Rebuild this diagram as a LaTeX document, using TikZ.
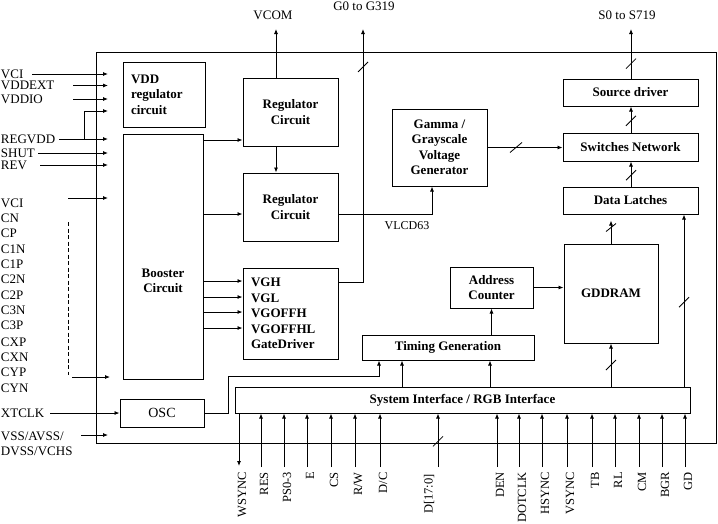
\documentclass[tikz,border=0pt]{standalone}
\usepackage{fontspec}
\setmainfont{Liberation Serif}
\usetikzlibrary{arrows.meta}
\begin{document}
\begin{tikzpicture}[x=1pt,y=-1pt,
  arr/.style={-{Latex[length=5pt,width=4pt]}, line width=0.8pt},
  ln/.style={line width=0.8pt},
  box/.style={draw, line width=1pt, inner sep=0pt, align=center, font=\fontsize{13}{15.5}\selectfont\bfseries},
  lbl/.style={font=\fontsize{13}{15}\selectfont, inner sep=0pt},
  pinlbl/.style={font=\fontsize{12.5}{15}\selectfont, inner sep=0pt, rotate=90, anchor=east},
  slashmark/.style={line width=0.8pt},
]
\useasboundingbox (0,0) rectangle (718,523);

% outer frame
\node[draw, line width=1pt, minimum width=620pt, minimum height=391pt, inner sep=0pt] (outer) at (406,247.5) {};

% blocks
\node[box, minimum width=82pt, minimum height=65pt, text width=66pt, align=left] (vdd) at (164,94.5) {VDD\\regulator\\circuit};
\node[box, minimum width=80pt, minimum height=245pt] (boost) at (163,256.5) {};
\node[font=\fontsize{13}{15.5}\selectfont\bfseries, align=center, inner sep=0pt] (boostT) at (163,281) {Booster\\Circuit};
\node[box, font=\fontsize{14}{16}\selectfont, minimum width=84pt, minimum height=28pt] (osc) at (162,413) {OSC};
\node[box, minimum width=95pt, minimum height=68pt] (reg1) at (290.5,112) {Regulator\\Circuit};
\node[box, minimum width=95pt, minimum height=68pt] (reg2) at (290.5,207) {Regulator\\Circuit};
\node[box, minimum width=95pt, minimum height=91pt, text width=79pt, align=left] (vgh) at (290.5,313.5) {VGH\\VGL\\VGOFFH\\VGOFFHL\\GateDriver};
\node[box, minimum width=95pt, minimum height=77pt] (gam) at (439.5,147.5) {Gamma /\\Grayscale\\Voltage\\Generator};
\node[box, minimum width=135pt, minimum height=27pt] (src) at (630.5,92.5) {Source driver};
\node[box, minimum width=135pt, minimum height=28pt] (sw) at (630.5,147) {Switches Network};
\node[box, minimum width=135pt, minimum height=27pt] (dl) at (630.5,200.5) {Data Latches};
\node[box, minimum width=83pt, minimum height=41pt] (ac) at (491.5,287.5) {Address\\Counter};
\node[box, minimum width=94pt, minimum height=99pt] (gd) at (611,293.5) {GDDRAM};
\node[box, minimum width=172pt, minimum height=25pt] (tg) at (448,347.5) {Timing Generation};
\node[box, minimum width=455pt, minimum height=26pt] (si) at (462.5,400) {System Interface / RGB Interface};

% top outputs
\coordinate (vcom) at (276,29);
\coordinate (g0) at (363,29);
\coordinate (s0) at (631,29);
\node[lbl] (vcomL) at (273,15) {VCOM};
\node[lbl] (g0L) at (364,6.5) {G0 to G319};
\node[lbl] (s0L) at (627,15) {S0 to S719};

\draw[arr] (reg1.north -| vcom) -- (vcom);
\draw[arr] (reg1.south -| vcom) -- (reg2.north -| vcom);
\coordinate (gk) at (363,282);
\draw[arr] (vgh.east |- gk) -- (gk) -- coordinate[pos=0.85] (gs) (g0);
\draw[slashmark] ([shift={(-5,5)}]gs) -- ([shift={(5,-5)}]gs);
\draw[arr] (src.north -| s0) -- coordinate[pos=0.3] (ss) (s0);
\draw[slashmark] ([shift={(-5,5)}]ss) -- ([shift={(5,-5)}]ss);

% booster outputs
\foreach \y/\n in {140/ba,214/bb,281/bc,297/bd,312/be,328/bf} {\coordinate (\n) at (203,\y);}
\draw[arr] (ba) -- (ba -| reg1.west);
\draw[arr] (bb) -- (bb -| reg2.west);
\draw[arr] (bc) -- (bc -| vgh.west);
\draw[arr] (bd) -- (bd -| vgh.west);
\draw[arr] (be) -- (be -| vgh.west);
\draw[arr] (bf) -- (bf -| vgh.west);

% reg2 -> gamma
\coordinate (vl) at (432,214);
\draw[arr] (reg2.east |- vl) -- (vl) -- (vl |- gam.south);
\node[font=\fontsize{12}{14}\selectfont, inner sep=0pt] (vlL) at (407,226) {VLCD63};

% gamma -> switches
\draw[arr] (gam.east) -- coordinate[pos=0.38] (gms) (gam.east -| sw.west);
\draw[slashmark] ([shift={(-6,5)}]gms) -- ([shift={(6,-5)}]gms);

% data path
\draw[arr] (dl.north -| s0) -- coordinate[pos=0.45] (d1) (sw.south -| s0);
\draw[slashmark] ([shift={(-5,5)}]d1) -- ([shift={(5,-5)}]d1);
\draw[arr] (sw.north -| s0) -- coordinate[pos=0.45] (d2) (src.south -| s0);
\draw[slashmark] ([shift={(-5,5)}]d2) -- ([shift={(5,-5)}]d2);
\draw[arr, shorten >=6pt] (gd.north) -- coordinate[pos=0.55] (d3) (gd.north |- dl.south);
\draw[slashmark] ([shift={(-5,4)}]d3) -- ([shift={(5,-4)}]d3);

\draw[arr] (ac.east) -- (ac.east -| gd.west);
\draw[arr] (ac.south |- tg.north) -- (ac.south);

% system interface up
\coordinate (xa) at (402,0);
\coordinate (xb) at (490,0);
\coordinate (xr) at (684,0);
\draw[arr] (si.north -| xa) -- (tg.south -| xa);
\draw[arr] (si.north -| xb) -- (tg.south -| xb);
\draw[arr] (gd.south |- si.north) -- coordinate[pos=0.5] (d4) (gd.south);
\draw[slashmark] ([shift={(-5,5)}]d4) -- ([shift={(5,-5)}]d4);
\draw[arr] (si.north -| xr) -- coordinate[pos=0.49] (d5) (dl.south -| xr);
\draw[slashmark] ([shift={(-5,5)}]d5) -- ([shift={(5,-5)}]d5);

% osc -> timing
\coordinate (oa) at (228,413);
\coordinate (ob) at (228,376);
\coordinate (oc) at (379,376);
\draw[arr] (osc.east) -- (oa) -- (ob) -- (oc) -- (oc |- tg.south);

% left pins
\foreach \t/\y/\n in {VCI/74/la, VDDEXT/85.5/lb, VDDIO/99/lc, REGVDD/139/ld, SHUT/153/le, REV/165/lf, VCI/203/lg, CN/218/lh, CP/233/li, C1N/249/lj, C1P/264/lk, C2N/279/ll, C2P/295/lm, C3N/310/ln, C3P/325/lo, CXP/342/lp, CXN/357/lq, CYP/372/lr, CYN/388/ls, XTCLK/413/lt, {VSS/AVSS/}/436/lu, {DVSS/VCHS}/451/lv} {
  \node[lbl, anchor=west] (\n) at (0.8,\y) {\t};
}
\coordinate (pa) at (32,74);   \coordinate (pae) at (108,74);
\coordinate (pb) at (73,85.5); \coordinate (pbe) at (108,85.5);
\coordinate (pc) at (73,99);   \coordinate (pce) at (108,99);
\coordinate (pd) at (59,139);  \coordinate (pde) at (108,139);
\coordinate (pdb) at (84,139); \coordinate (pdt) at (84,111); \coordinate (pdte) at (108,111);
\coordinate (pe) at (38,153);  \coordinate (pee) at (108,153);
\coordinate (pf) at (40,165);  \coordinate (pfe) at (108,165);
\coordinate (pg) at (68,198);  \coordinate (pge) at (108,198);
\coordinate (ph) at (72,377);  \coordinate (phe) at (110,377);
\coordinate (pi) at (50,413);
\coordinate (pj) at (81,435);  \coordinate (pje) at (108,435);
\draw[arr] (pa) -- (pae);
\draw[arr] (pb) -- (pbe);
\draw[arr] (pc) -- (pce);
\draw[arr] (pd) -- (pde);
\draw[arr] (pdb) -- (pdt) -- (pdte);
\draw[arr] (pe) -- (pee);
\draw[arr] (pf) -- (pfe);
\draw[arr] (pg) -- (pge);
\draw[arr] (ph) -- (phe);
\draw[arr] (pi) -- (osc.west);
\draw[arr] (pj) -- (pje);
\coordinate (dsa) at (68,222); \coordinate (dsb) at (68,375);
\draw[ln, dash pattern=on 4pt off 2.5pt] (dsa) -- (dsb);

% bottom pins
\coordinate (wsy) at (239,466);
\draw[arr] (si.south -| wsy) -- (wsy);
\node[pinlbl] (wsyL) at (242,472) {WSYNC};
\foreach \t/\x/\n in {RES/261/qa, PS0-3/284/qb, E/307/qc, CS/331/qd, {R/W}/355/qe, {D/C}/380/qf, DEN/497/qg, DOTCLK/519/qh, HSYNC/542/qi, VSYNC/567/qj, TB/592/qk, RL/615/ql, CM/639/qm, BGR/662/qn, GD/685/qo} {
  \coordinate (\n) at (\x,467);
  \draw[arr] (\n) -- (\n |- si.south);
  \node[pinlbl] (\n L) at (\x+3,472) {\t};
}
\coordinate (dd) at (438,467);
\draw[arr] (dd) -- coordinate[pos=0.48] (d6) (dd |- si.south);
\draw[slashmark] ([shift={(-5,5)}]d6) -- ([shift={(5,-5)}]d6);
\node[pinlbl] (ddL) at (429,474) {D[17:0]};
\end{tikzpicture}
\end{document}
